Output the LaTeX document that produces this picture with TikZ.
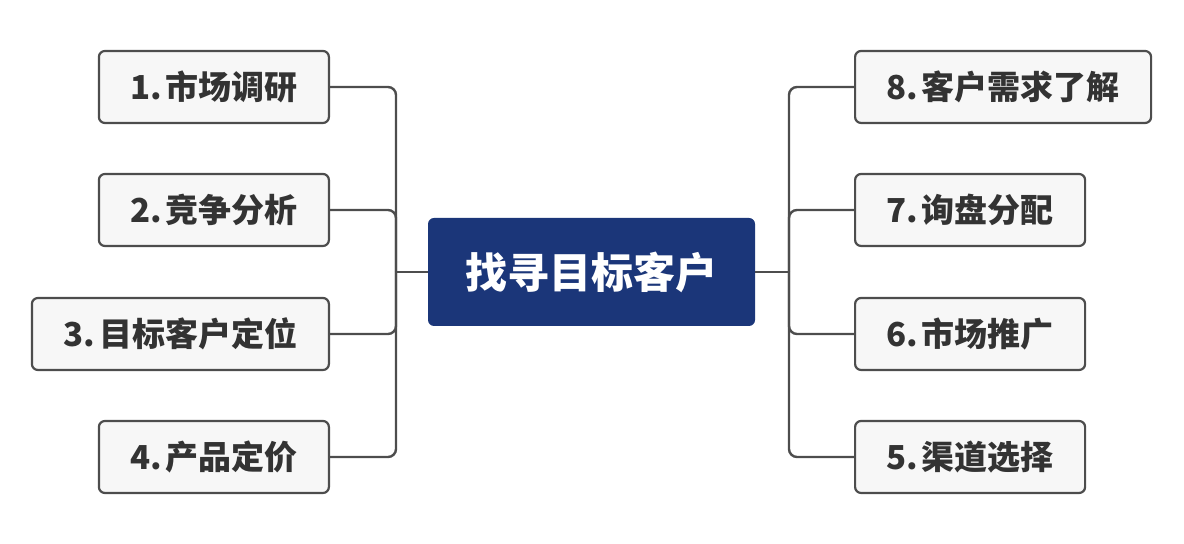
\documentclass[tikz,border=0pt]{standalone}
\usepackage{fontspec}
\setmainfont{Noto Sans CJK SC}
\definecolor{hubblue}{HTML}{1B3679}
\definecolor{linegray}{HTML}{4D4D4D}
\definecolor{boxfill}{HTML}{F7F7F7}
\definecolor{txtgray}{HTML}{333333}
\newcommand{\nsp}{\hspace{2pt}}
\begin{document}
\begin{tikzpicture}[x=0.5pt,y=-0.5pt,
        topic/.style = {draw = linegray, line width = 1.1pt, fill = boxfill, rounded corners = 3pt,
            minimum width = 115pt, minimum height = 36pt, inner sep = 0pt, text = txtgray,
            font = \fontsize{16.5}{18}\selectfont\bfseries},
        hub/.style = {fill = hubblue, rounded corners = 3pt, minimum width = 163.5pt,
            minimum height = 54pt, text = white, font = \fontsize{21}{24}\selectfont\bfseries},
        branch/.style = {draw = linegray, line width = 1.2pt, rounded corners = 4pt}]
        \useasboundingbox (0,0) rectangle (1184,544);
        \node[hub] (hub) at (591.5,272) {找寻目标客户};
        \begin{scope}[every node/.append style = {anchor = east}]
            \node[topic] (t1) at (330,87) {1.\nsp 市场调研};
            \node[topic] (t2) at (330,210) {2.\nsp 竞争分析};
            \node[topic, minimum width = 148.5pt] (t3) at (330,334) {3.\nsp 目标客户定位};
            \node[topic] (t4) at (330,457) {4.\nsp 产品定价};
        \end{scope}
        \begin{scope}[every node/.append style = {anchor = west}]
            \node[topic, minimum width = 148pt] (t8) at (854,87) {8.\nsp 客户需求了解};
            \node[topic] (t7) at (854,210) {7.\nsp 询盘分配};
            \node[topic] (t6) at (854,334) {6.\nsp 市场推广};
            \node[topic] (t5) at (854,457) {5.\nsp 渠道选择};
        \end{scope}
        \coordinate (lj) at (396,272);
        \coordinate (rj) at (789,272);
        \draw[branch] (hub.west) -- (lj);
        \draw[branch] (hub.east) -- (rj);
        \foreach \n in {t1,t2,t3,t4}
            \draw[branch] (lj) |- (\n.east);
        \foreach \n in {t5,t6,t7,t8}
            \draw[branch] (rj) |- (\n.west);
    \end{tikzpicture}
\end{document}
